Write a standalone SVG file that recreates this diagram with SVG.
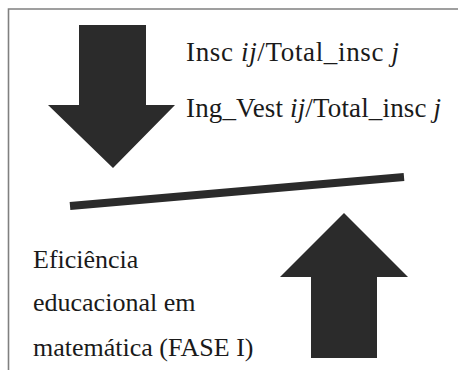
<svg xmlns="http://www.w3.org/2000/svg" width="458" height="370" viewBox="0 0 458 370">
<style>
.shape{fill:#2b2b2b}
.t{font-family:"Liberation Serif","Times New Roman",serif;font-size:26px;fill:#1a1a1a}
.big{font-size:27px}
.i{font-style:italic}
</style>
<rect width="458" height="370" fill="#fff"/>
<path d="M8.5 370 V9 H458" fill="none" stroke="#808080" stroke-width="1.6"/>
<g id="arrow-down"><polygon class="shape" points="79,25 146,25 146,105 175,105 113,168 48,105 79,105"/></g>
<g id="arrow-up"><polygon class="shape" points="344,213 408,277 377,277 377,358 311,358 311,277 280,277"/></g>
<g id="connectors"><line x1="70" y1="206" x2="404" y2="177" stroke="#2b2b2b" stroke-width="8"/></g>
<g id="label-top">
<text class="t big" x="186" y="61" textLength="213" lengthAdjust="spacing">Insc <tspan class="i">ij</tspan>/Total_insc <tspan class="i">j</tspan></text>
<text class="t big" x="186" y="117" textLength="255" lengthAdjust="spacing">Ing_Vest <tspan class="i">ij</tspan>/Total_insc <tspan class="i">j</tspan></text>
</g>
<g id="label-bottom">
<text class="t" x="33" y="268">Eficiência</text>
<text class="t" x="33" y="311">educacional em</text>
<text class="t" x="33" y="356">matemática (FASE I)</text>
</g>
</svg>
